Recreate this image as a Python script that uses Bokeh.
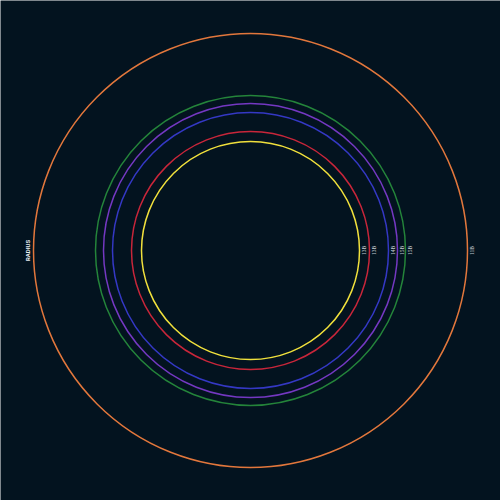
from bokeh.plotting import figure
from bokeh.models import ColumnDataSource, Label, Range1d
from bokeh.embed import file_html
from bokeh.resources import INLINE
import math

# data
series = ["Yellow", "Red", "Blue", "Purple", "Green", "Orange"]
radius = [109, 119, 138, 147, 155, 217]
value_labels = ["13B", "13B", "14B", "15B", "15B", "11B"]
colors = ["#f0e03c", "#c8263a", "#3438c4", "#7438c2", "#24843a", "#e2773c"]

BG = "#03131f"

p = figure(width=500, height=500, output_backend="svg", toolbar_location=None,
           x_range=Range1d(-250, 250), y_range=Range1d(-250, 250),
           min_border=0, background_fill_color=BG, border_fill_color=BG,
           outline_line_color=None)
p.axis.visible = False
p.grid.visible = False

src = ColumnDataSource(dict(x=[0] * len(radius), y=[0] * len(radius), r=radius,
                            c=colors, lab=value_labels,
                            lx=[r + 4 for r in radius], ly=[0] * len(radius)))
p.circle(x="x", y="y", radius="r", source=src, fill_alpha=0,
         line_color="c", line_width=1.5)
p.text(x="lx", y="ly", text="lab", source=src, angle=math.pi / 2,
       text_align="center", text_baseline="middle", text_font_size="5.5px",
       text_color="#c4cad0", text_font="Roboto")

p.add_layout(Label(x=-223, y=0, text="RADIUS", angle=math.pi / 2,
                   text_align="center", text_baseline="middle",
                   text_font_size="6px", text_font_style="bold",
                   text_color="#e8ecef", text_font="Roboto"))

open("out.html", "w").write(file_html(p, INLINE))
